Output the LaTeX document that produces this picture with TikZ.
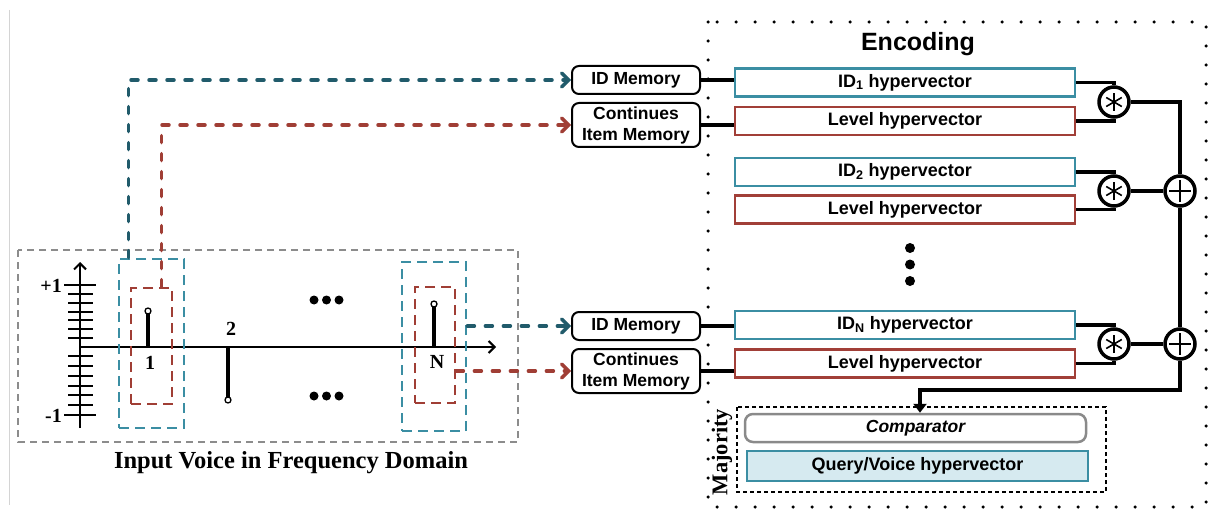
\documentclass[tikz,border=0pt]{standalone}
\usepackage{fontspec}
\setmainfont{Liberation Serif}
\setsansfont{Liberation Sans}
\usetikzlibrary{arrows.meta}
\definecolor{idteal}{HTML}{3B8EA3}
\definecolor{lvred}{HTML}{A13F38}
\definecolor{darkteal}{HTML}{215B6B}
\definecolor{dashred}{HTML}{A03E35}
\definecolor{queryfill}{HTML}{D6EAF0}
\definecolor{framegray}{HTML}{8C8C8C}
\definecolor{cmpgray}{HTML}{8A8A8A}
\definecolor{rulegray}{HTML}{D4D4D4}
\tikzset{
  sflabel/.style={font=\sffamily\bfseries\fontsize{17.5}{21}\selectfont},
  hvlabel/.style={font=\sffamily\bfseries\fontsize{18}{21}\selectfont},
  memorybox/.style={draw, line width=2, rounded corners=7, minimum width=128,
    minimum height=#1, inner sep=0, align=center, sflabel},
  hvbox/.style={draw=#1, line width=2.5, minimum width=340, minimum height=28,
    inner sep=0, hvlabel},
  mult/.style={circle, draw, line width=3.5, minimum size=30, inner sep=0, fill=white,
    path picture={
      \foreach \a in {90,30,150}
        \draw[line width=1.6] (path picture bounding box.center) ++(\a:9) -- ++(\a+180:18);}},
  plus/.style={circle, draw, line width=3.5, minimum size=30, inner sep=0, fill=white,
    path picture={
      \draw[line width=1.6] (path picture bounding box.center) ++(-11,0) -- ++(22,0);
      \draw[line width=1.6] (path picture bounding box.center) ++(0,-11) -- ++(0,22);}},
  wire/.style={line width=3.8},
  tealframe/.style={draw=idteal, line width=2.8, dash pattern=on 10 off 6, inner sep=0},
  redframe/.style={draw=dashred, line width=2.8, dash pattern=on 10 off 6, inner sep=0},
  tealflow/.style={draw=darkteal, line width=3.5, line cap=round, dash pattern=on 7 off 11,
    -{Straight Barb[length=7,width=14,line cap=round]}},
  redflow/.style={draw=dashred, line width=3.5, line cap=round, dash pattern=on 7 off 11,
    -{Straight Barb[length=7,width=14,line cap=round]}},
  serifnum/.style={font=\bfseries\fontsize{20}{20}\selectfont, inner sep=0},
  tick/.style={line width=2},
  stem/.style={line width=3.5},
  stemtip/.style={draw, fill=white, line width=1.3},
  bigdot/.style={circle, fill, inner sep=0, minimum size=9},
}
\begin{document}
\begin{tikzpicture}[x=1pt,y=-1pt]
\useasboundingbox (0,0) rectangle (1208,516);

% thin page rule on the left
\draw[rulegray, line width=1] (9.5,10) -- (9.5,505);

% ---- input spectrum panel ----
\draw[framegray, line width=1.8, dash pattern=on 7 off 5] (18,250) rectangle (518,442);
\node[font=\bfseries\fontsize{24.5}{24.5}\selectfont] (title) at (291,463) {Input Voice in Frequency Domain};

% axes
\draw[line width=2, -{Straight Barb[length=6,width=12]}] (80,428) -- (80,262);
\draw[line width=2, -{Straight Barb[length=6,width=12]}] (80,347) -- (496,347);
\foreach \k in {1,...,6} \draw[tick] (68,{285+\k*53/6}) -- (93,{285+\k*53/6});
\foreach \k in {0,...,5} \draw[tick] (68,{356+\k*59/6}) -- (93,{356+\k*59/6});
\draw[tick] (64,285) -- (96,285);
\draw[tick] (64,415) -- (96,415);
\node[serifnum, anchor=east] (pone) at (62,286) {+1};
\node[serifnum, anchor=east] (mone) at (62,416) {-1};

% spectral lines
\draw[stem] (148,347) -- (148,314);
\draw[stemtip] (148,311) circle (3);
\draw[stem] (228,347) -- (228,397);
\draw[stemtip] (228,400) circle (3);
\draw[stem] (434,347) -- (434,307);
\draw[stemtip] (434,304) circle (3);
\node[serifnum] (l1) at (150,363) {1};
\node[serifnum] (l2) at (231,329) {2};
\node[serifnum] (lN) at (437,362) {N};
\foreach \i/\x in {a/314,b/326.5,c/339} {
  \node[bigdot] (u\i) at (\x,300) {};
  \node[bigdot] (d\i) at (\x,396) {};
}

% selection windows
\node[tealframe, minimum width=65, minimum height=169] (tb1) at (151.5,343.5) {};
\node[redframe, minimum width=41, minimum height=116] (rb1) at (151.5,346) {};
\node[tealframe, minimum width=64, minimum height=169] (tbN) at (434,346.5) {};
\node[redframe, minimum width=40, minimum height=116] (rbN) at (435,345) {};

% ---- memories ----
\node[memorybox=28] (idm1) at (636,80) {ID Memory};
\node[memorybox=44] (cim1) at (636,125) {Continues\\Item Memory};
\node[memorybox=28] (idmN) at (636,326) {ID Memory};
\node[memorybox=44] (cimN) at (636,371) {Continues\\Item Memory};

\draw[tealflow] ([xshift=11]tb1.north west) |- (idm1.west);
\draw[redflow] ([xshift=32]rb1.north west) |- (cim1.west);
\draw[tealflow] (tbN.east |- idmN.west) -- (idmN.west);
\draw[redflow] (rbN.east |- cimN.west) -- (cimN.west);

% ---- encoding ----
\draw[line width=3.5, line cap=round, dash pattern=on 0 off 19] (708,22) rectangle (1206,507);
\node[font=\sffamily\bfseries\fontsize{25}{25}\selectfont] (enc) at (918,44) {Encoding};

\node[hvbox=idteal] (hv1) at (905,82.5) {ID\textsubscript{1} hypervector};
\node[hvbox=lvred] (lv1) at (905,121) {Level hypervector};
\node[hvbox=idteal] (hv2) at (905,172) {ID\textsubscript{2} hypervector};
\node[hvbox=lvred] (lv2) at (905,209.5) {Level hypervector};
\node[hvbox=idteal] (hvN) at (905,325) {ID\textsubscript{N} hypervector};
\node[hvbox=lvred] (lvN) at (905,363.5) {Level hypervector};
\foreach \i/\y in {a/248,b/264.5,c/281} \node[bigdot, minimum size=10] (v\i) at (910,\y) {};

\draw[wire] (idm1.east) -- (idm1.east -| hv1.west);
\draw[wire] (cim1.east) -- (cim1.east -| lv1.west);
\draw[wire] (idmN.east) -- (idmN.east -| hvN.west);
\draw[wire] (cimN.east) -- (cimN.east -| lvN.west);

\node[mult] (m1) at (1114,102) {};
\node[mult] (m2) at (1114,191) {};
\node[mult] (m3) at (1114,344) {};
\node[plus] (p1) at (1180,191) {};
\node[plus] (p2) at (1180,344) {};

\draw[wire] (hv1.east) -| (m1.north);
\draw[wire] (lv1.east) -| (m1.south);
\draw[wire] (hv2.east) -| (m2.north);
\draw[wire] (lv2.east) -| (m2.south);
\draw[wire] (hvN.east) -| (m3.north);
\draw[wire] (lvN.east) -| (m3.south);
\draw[wire] (m1.east) -| (p1.north);
\draw[wire] (m2.east) -- (p1.west);
\draw[wire] (p1.south) -- (p2.north);
\draw[wire] (m3.east) -- (p2.west);

% ---- majority / comparison ----
\draw[line width=1.5, dash pattern=on 4 off 3] (737,407) rectangle (1106,492);
\node[font=\bfseries\fontsize{22.5}{22.5}\selectfont, rotate=90] (maj) at (722,452) {Majority};
\node[draw=cmpgray, line width=2.5, rounded corners=8, minimum width=341, minimum height=28,
  inner sep=0, font=\sffamily\bfseries\itshape\fontsize{17.5}{21}\selectfont] (cmp) at (915.5,428) {Comparator};
\node[draw=idteal, fill=queryfill, line width=2.5, minimum width=341, minimum height=30,
  inner sep=0, hvlabel] (qv) at (917.5,466) {Query/Voice hypervector};

\coordinate (bend) at (920,390);
\draw[wire, -{Triangle[length=9,width=13]}] (p2.south) |- (bend) -- (cmp.north -| bend);
\end{tikzpicture}
\end{document}
